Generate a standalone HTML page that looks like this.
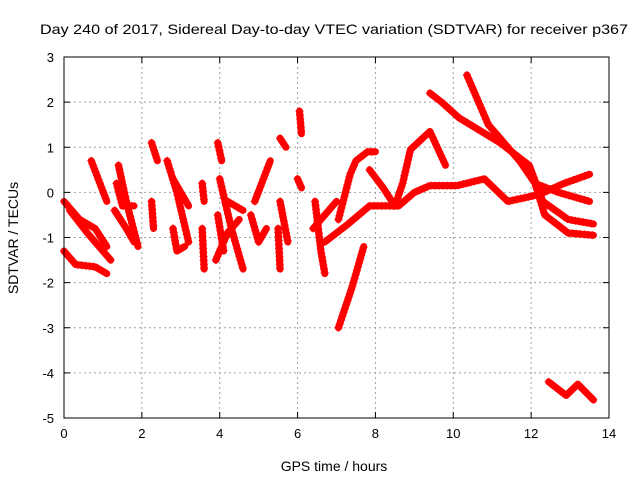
<!DOCTYPE html>
<html><head><meta charset="utf-8"><style>
body{margin:0;background:#fff}
svg{display:block;font-family:"Liberation Sans",sans-serif}
</style></head><body>
<svg id="c" width="640" height="480" viewBox="0 0 640 480">
<text x="40" y="34" font-size="14" textLength="588" lengthAdjust="spacingAndGlyphs">Day 240 of 2017, Sidereal Day-to-day VTEC variation (SDTVAR) for receiver p367</text>
<g id="grid"></g><g id="marks"></g><g id="axes"></g>
<text x="334" y="471" font-size="14" text-anchor="middle">GPS time / hours</text>
<text transform="translate(18,238) rotate(-90)" font-size="14" text-anchor="middle">SDTVAR / TECUs</text>
</svg>
<script>
const xTicks=[0,2,4,6,8,10,12,14];
const yTicks=[3,2,1,0,-1,-2,-3,-4,-5];
const tracks=[
[[0,-0.2],[0.4,-0.6],[0.8,-0.8],[1.1,-1.2]],
[[0.15,-0.4],[0.6,-0.9],[1.2,-1.5]],
[[0,-1.3],[0.3,-1.6],[0.8,-1.65],[1.1,-1.8]],
[[0.7,0.7],[1.1,-0.2]],
[[1.4,0.6],[1.6,-0.2],[1.9,-1.2]],
[[1.3,-0.4],[1.6,-0.8],[1.8,-1.1]],
[[1.35,0.2],[1.5,-0.3],[1.8,-0.3]],
[[2.25,1.1],[2.4,0.7]],
[[2.25,-0.2],[2.3,-0.8]],
[[2.65,0.7],[2.9,0],[3.2,-1.1]],
[[2.8,0.3],[3.2,-0.3]],
[[2.8,-0.8],[2.9,-1.3],[3.1,-1.2]],
[[3.55,-0.8],[3.6,-1.7]],
[[3.55,0.2],[3.6,-0.2]],
[[3.95,1.1],[4.05,0.7]],
[[4.0,0.3],[4.3,-0.8],[4.6,-1.7]],
[[3.9,-1.5],[4.2,-0.9],[4.5,-0.6]],
[[4.2,-0.2],[4.6,-0.4]],
[[3.95,-0.5],[4.1,-1.3]],
[[4.9,-0.2],[5.3,0.7]],
[[4.8,-0.5],[5.0,-1.1],[5.2,-0.8]],
[[5.55,1.2],[5.7,1.0]],
[[5.55,-0.2],[5.75,-1.1]],
[[5.5,-0.8],[5.55,-1.7]],
[[6.05,1.8],[6.1,1.3]],
[[6.0,0.3],[6.1,0.1]],
[[6.45,-0.2],[6.6,-1.3],[6.7,-1.8]],
[[6.7,-1.1],[7.3,-0.7],[7.85,-0.3]],
[[6.4,-0.8],[6.8,-0.4],[7.0,-0.2]],
[[7.05,-3.0],[7.4,-2.1],[7.7,-1.2]],
[[7.05,-0.6],[7.35,0.4],[7.5,0.7],[7.8,0.9],[8.0,0.9]],
[[7.85,0.5],[8.2,0.1],[8.5,-0.3],[8.7,0.2],[8.9,0.95],[9.4,1.35],[9.8,0.6]],
[[7.85,-0.3],[8.6,-0.3],[9.0,0],[9.4,0.15],[10.1,0.15],[10.8,0.3],[11.4,-0.2],[12.2,-0.05],[12.85,0.2],[13.5,0.4]],
[[9.4,2.2],[9.7,2.0],[10.15,1.65],[11.2,1.1],[11.95,0.6],[12.3,-0.2],[12.95,-0.6],[13.6,-0.7]],
[[10.35,2.6],[10.9,1.5],[11.7,0.7],[12.1,0.2],[12.35,-0.5],[12.95,-0.9],[13.6,-0.95]],
[[12.1,0.2],[12.7,0],[13.5,-0.2]],
[[12.45,-4.2],[12.9,-4.5],[13.2,-4.25],[13.6,-4.6]]
];
const L=64,R=609,T=57,B=418;
const xs=v=>L+(v-0)/14*(R-L);
const ys=v=>T+(3-v)/8*(B-T);
const NS="http://www.w3.org/2000/svg";
const grid=document.getElementById('grid'),axes=document.getElementById('axes'),marks=document.getElementById('marks');
function mk(p,tag,at){const e=document.createElementNS(NS,tag);for(const k in at)e.setAttribute(k,at[k]);p.appendChild(e);return e;}
xTicks.forEach(t=>{const x=xs(t);
 if(t>0&&t<14){const g=mk(grid,'line',{x1:x,x2:x,y1:T,y2:B,stroke:'#a0a0a0','stroke-dasharray':'2,3'});
 }
 const tx=mk(axes,'text',{x:x,y:B+20,'font-size':13,'text-anchor':'middle'});tx.textContent=t;
 
 mk(axes,'line',{x1:x,x2:x,y1:B,y2:B-6,stroke:'#000'});mk(axes,'line',{x1:x,x2:x,y1:T,y2:T+6,stroke:'#000'});
});
yTicks.forEach(t=>{const y=ys(t);
 if(t<3&&t>-5){const g=mk(grid,'line',{x1:L,x2:R,y1:y,y2:y,stroke:'#a0a0a0','stroke-dasharray':'2,3'});
 }
 const tx=mk(axes,'text',{x:L-10,y:y+5,'font-size':13,'text-anchor':'end'});tx.textContent=t;
 
 mk(axes,'line',{x1:L,x2:L+6,y1:y,y2:y,stroke:'#000'});mk(axes,'line',{x1:R,x2:R-6,y1:y,y2:y,stroke:'#000'});
});
const fr=mk(axes,'rect',{x:L,y:T,width:R-L,height:B-T,fill:'none',stroke:'#000'});

tracks.forEach(tr=>{
 const pts=tr.map(p=>xs(p[0])+','+ys(p[1])).join(' ');
 const pl=mk(marks,'polyline',{points:pts,fill:'none',stroke:'#f00','stroke-width':7,'stroke-linejoin':'round','stroke-linecap':'round'});
 
 
 const len=pl.getTotalLength();
 let d='';
 for(let s=0;s<=len;s+=4){const q=pl.getPointAtLength(s);d+=`M${q.x-4},${q.y}h8M${q.x},${q.y-4}v8`;}
 const pm=mk(marks,'path',{d:d,stroke:'#f00','stroke-width':1,fill:'none'});
 
 
});
</script>
</body></html>
